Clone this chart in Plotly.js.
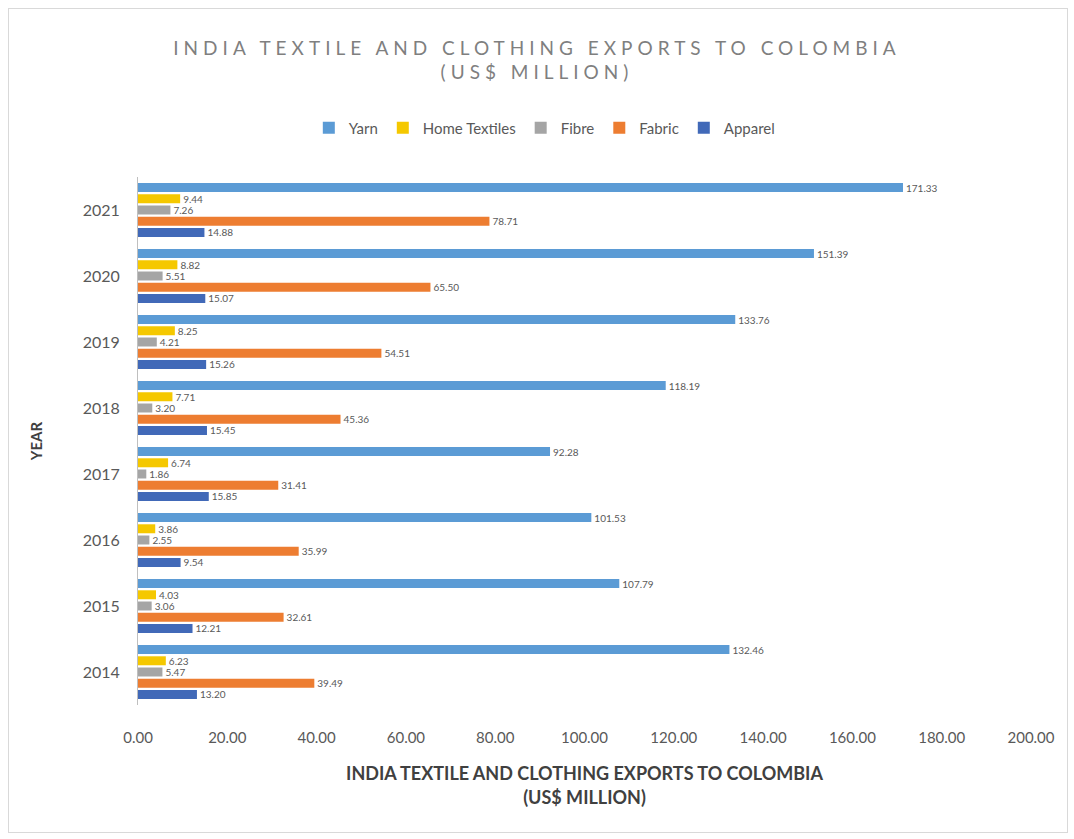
<!DOCTYPE html>
<html>
<head>
<meta charset="utf-8">
<script src="https://cdn.plot.ly/plotly-3.0.1.min.js"></script>
<style>
body{margin:0;padding:0;background:#fff;}
#frame{position:absolute;left:8px;top:8px;width:1058px;height:823px;border:1px solid #d9d9d9;pointer-events:none;}
#chart{width:1074px;height:839px;}
.gtitle{letter-spacing:5px;}
</style>
</head>
<body>
<div id="chart"></div>
<div id="frame"></div>
<script>
var years = ["2014","2015","2016","2017","2018","2019","2020","2021"];
var yarn = [132.46,107.79,101.53,92.28,118.19,133.76,151.39,171.33];
var homeTextiles = [6.23,4.03,3.86,6.74,7.71,8.25,8.82,9.44];
var fibre = [5.47,3.06,2.55,1.86,3.20,4.21,5.51,7.26];
var fabric = [39.49,32.61,35.99,31.41,45.36,54.51,65.50,78.71];
var apparel = [13.20,12.21,9.54,15.85,15.45,15.26,15.07,14.88];

function mk(name, vals, color){
  return {
    type:'bar', orientation:'h', name:name, y:years, x:vals,
    marker:{color:color},
    texttemplate:'%{x:.2f}', textposition:'outside', cliponaxis:false, constraintext:'none',
    textfont:{family:'Lato, Open Sans, sans-serif', size:10, color:'#595959'},
    hoverinfo:'x+name'
  };
}
var data = [
  mk('Apparel', apparel, '#4169b8'),
  mk('Fabric', fabric, '#ed7d31'),
  mk('Fibre', fibre, '#a5a5a5'),
  mk('Home Textiles', homeTextiles, '#f5c800'),
  mk('Yarn', yarn, '#5b9bd5')
];
var layout = {
  width:1074, height:839,
  margin:{l:138, r:43, t:177, b:134},
  paper_bgcolor:'#fff', plot_bgcolor:'#fff',
  font:{family:'Lato, Open Sans, sans-serif', color:'#595959'},
  barmode:'group', bargap:0.15, bargroupgap:0.2,
  title:{text:'INDIA TEXTILE AND CLOTHING EXPORTS TO COLOMBIA<br>(US$ MILLION)',
    font:{size:19, color:'#7f7f7f'}, x:0.5, xanchor:'center', y:0.935, yanchor:'top'},
  legend:{orientation:'h', traceorder:'reversed', x:0.455, xanchor:'center', y:1.093, yanchor:'middle',
    font:{size:15, color:'#595959'}, itemwidth:30, tracegroupgap:0},
  xaxis:{range:[0,200], dtick:20, tickformat:'.2f', showgrid:false, zeroline:false,
    showline:false, ticks:'', ticklabelstandoff:22, tickfont:{size:15, color:'#595959'},
    title:{text:'<b>INDIA TEXTILE AND CLOTHING EXPORTS TO COLOMBIA<br>(US$ MILLION)</b>',
      font:{size:18, color:'#404040'}, standoff:22}},
  yaxis:{type:'category', showgrid:false, zeroline:false, showline:true, linecolor:'#bfbfbf',
    linewidth:1, ticks:'', ticklabelstandoff:14, tickfont:{size:16, color:'#595959'},
    title:{text:'<b>YEAR</b>', font:{size:15, color:'#404040'}, standoff:36}}
};
Plotly.newPlot('chart', data, layout, {displayModeBar:false});
</script>
</body>
</html>
